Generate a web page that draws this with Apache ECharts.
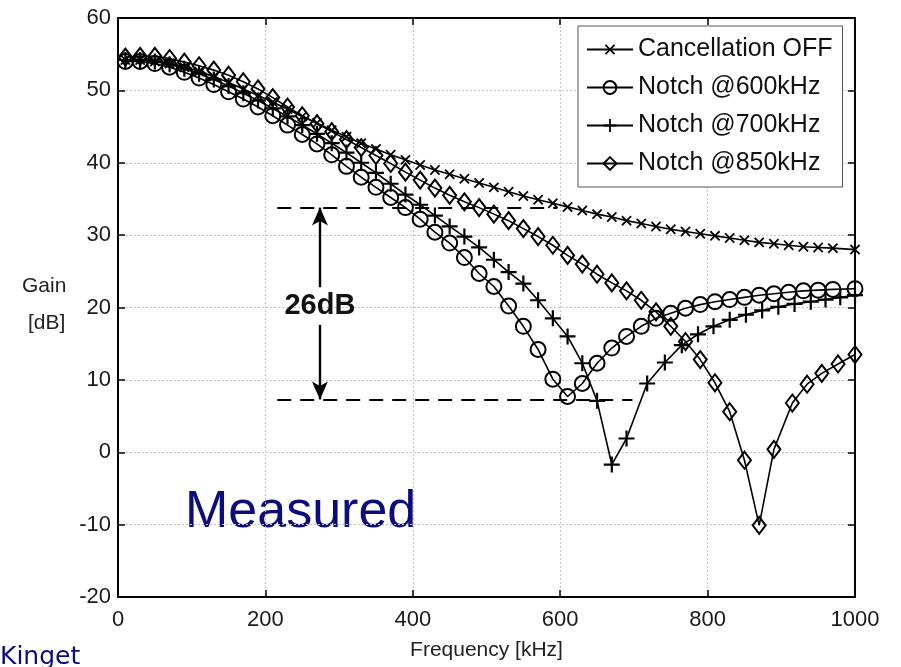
<!DOCTYPE html>
<html>
<head>
<meta charset="utf-8">
<script src="https://cdn.jsdelivr.net/npm/echarts@6/dist/echarts.min.js"></script>
<style>
  html, body { margin: 0; padding: 0; background: #fff; }
  #chart { width: 901px; height: 667px; }
</style>
</head>
<body>
<div id="chart"></div>
<script>
// Measured gain of the receiver with and without the cancellation notch.
const seriesNames = ['Cancellation OFF', 'Notch @600kHz', 'Notch @700kHz', 'Notch @850kHz'];

// Cancellation OFF
const freqOff = [10,30,50,70,90,110,130,150,170,190,210,230,250,270,290,310,330,350,370,390,
                 410,430,450,470,490,510,530,550,570,590,610,630,650,670,690,710,730,750,770,790,
                 810,830,850,870,890,910,930,950,970,1000];
const gainOff = [54.2,54.2,54.0,53.7,53.2,52.6,51.9,51.1,50.2,49.3,48.4,47.4,46.4,45.5,44.5,43.6,42.7,41.9,41.1,40.4,
                 39.7,39.0,38.4,37.8,37.2,36.6,36.0,35.4,34.9,34.4,33.9,33.4,32.9,32.5,32.0,31.6,31.2,30.8,30.5,30.2,
                 29.9,29.6,29.3,29.0,28.8,28.6,28.4,28.3,28.2,28.0];

// Notch at 600 kHz
const freq600 = [10,30,50,70,90,110,130,150,170,190,210,230,250,270,290,310,330,350,370,390,
                 410,430,450,470,490,510,530,550,570,590,610,630,650,670,690,710,730,750,770,790,
                 810,830,850,870,890,910,930,950,970,1000];
const gain600 = [54.0,54.0,53.7,53.2,52.5,51.7,50.8,49.8,48.8,47.7,46.5,45.2,43.9,42.6,41.1,39.5,38.0,36.6,35.2,33.8,
                 32.2,30.4,28.9,26.9,24.7,22.9,20.2,17.4,14.2,10.1,7.7,9.5,12.3,14.4,16.0,17.4,18.5,19.2,19.9,20.4,
                 20.8,21.1,21.4,21.7,21.9,22.1,22.3,22.4,22.5,22.6];

// Notch at 700 kHz
const freq700 = [10,30,50,70,90,110,130,150,170,190,210,230,250,270,290,310,330,350,370,390,
                 410,430,450,470,490,510,530,550,570,590,610,630,650,670,
                 690,718,742,765,787,808,830,852,874,896,918,940,960,980,1000];
const gain700 = [54.2,54.2,54.0,53.6,53.0,52.3,51.5,50.6,49.6,48.6,47.5,46.4,45.2,44.0,42.7,41.4,40.0,38.6,37.1,35.6,
                 34.2,32.7,31.2,29.8,28.3,26.6,24.9,23.3,21.0,18.5,16.0,12.3,7.1,-1.7,
                 1.9,9.5,12.4,14.8,16.3,17.4,18.3,19.0,19.6,20.1,20.5,20.8,21.1,21.4,21.7];

// Notch at 850 kHz
const freq850 = [10,30,50,70,90,110,130,150,170,190,210,230,250,270,290,310,330,350,370,390,
                 410,430,450,470,490,510,530,550,570,590,610,630,650,670,690,710,730,750,770,790,
                 810,830,850,870,890,915,935,955,977,1000];
const gain850 = [54.6,54.7,54.7,54.4,53.9,53.4,52.8,52.1,51.2,50.2,49.0,47.7,46.5,45.4,44.3,43.2,42.1,41.0,39.9,38.7,
                 37.6,36.5,35.5,34.6,33.8,32.9,32.0,30.9,29.8,28.6,27.2,26.0,24.6,23.4,22.3,21.0,19.4,17.4,15.3,12.8,
                 9.6,5.6,-1.1,-10.1,0.4,6.8,9.4,10.9,12.2,13.5];

// Axis ticks
const xTicks = [0, 200, 400, 600, 800, 1000];
const yTicks = [-20, -10, 0, 10, 20, 30, 40, 50, 60];

// Suppression annotation (kHz / dB)
const gapLabel = '26dB';
const gapTop = 33.8;
const gapBottom = 7.3;
const gapFreq = 274;
const gapLineStart = 216;
const gapTopEnd = 596;
const gapBottomEnd = 698;
const gapTextLevel = 20.2;
const gapTextHalf = 2.6;

const pairs = (f, g) => f.map((v, i) => [v, g[i]]);

const plusPath = 'path://M-1.1,-8 L1.1,-8 L1.1,-1.1 L8,-1.1 L8,1.1 L1.1,1.1 L1.1,8 L-1.1,8 L-1.1,1.1 L-8,1.1 L-8,-1.1 L-1.1,-1.1 Z';
const hollow = { color: 'rgba(0,0,0,0)', borderColor: '#000', borderWidth: 2 };
const solid = { color: '#000', borderWidth: 0 };
const lineStyle = { color: '#000', width: 1.6 };
const tickFont = 'Liberation Sans';

function curve(name, data, symbol, size, itemStyle, rotate) {
  return {
    name, type: 'line', data, symbol, symbolSize: size, symbolRotate: rotate || 0,
    itemStyle, lineStyle, color: '#000', clip: false, silent: true,
    emphasis: { disabled: true }
  };
}

function frameAxis(extra) {
  return Object.assign({
    type: 'value',
    axisLine: { onZero: false, lineStyle: { color: '#000', width: 2 } },
    axisTick: { inside: true, length: 7, lineStyle: { color: '#000', width: 1.5 } },
    axisLabel: { show: false },
    splitLine: { show: false }
  }, extra);
}

const grid = { show: true, lineStyle: { color: '#c4c4c4', width: 1, type: [2, 2] } };
const labelStyle = { fontFamily: tickFont, fontSize: 22, color: '#1a1a1a', formatter: v => String(v) };

const chart = echarts.init(document.getElementById('chart'), null, { renderer: 'canvas' });

const dash = { color: '#000', width: 2, type: [14, 9] };
const solidArrow = { color: '#000', width: 2.4, type: 'solid' };

chart.setOption({
  animation: false,
  backgroundColor: '#fff',
  grid: { left: 118, right: 46, top: 18, bottom: 70, containLabel: false, outerBoundsMode: 'none' },
  legend: {
    data: seriesNames,
    orient: 'vertical',
    left: 578, top: 26,
    itemWidth: 46, itemHeight: 16, itemGap: 13,
    padding: [11, 10, 11, 8],
    backgroundColor: '#fff',
    borderColor: '#555', borderWidth: 1, borderRadius: 0,
    selectedMode: false,
    textStyle: { fontFamily: tickFont, fontSize: 25, color: '#111', padding: [0, 0, 0, 0] }
  },
  xAxis: [
    frameAxis({
      min: xTicks[0], max: xTicks[xTicks.length - 1], interval: 200, position: 'bottom',
      name: 'Frequency [kHz]', nameLocation: 'middle', nameGap: 43,
      nameTextStyle: { fontFamily: tickFont, fontSize: 21, color: '#222' },
      axisLabel: Object.assign({ show: true, margin: 12 }, labelStyle),
      splitLine: grid
    }),
    frameAxis({ min: xTicks[0], max: xTicks[xTicks.length - 1], interval: 200, position: 'top' })
  ],
  yAxis: [
    frameAxis({
      min: yTicks[0], max: yTicks[yTicks.length - 1], interval: 10, position: 'left',
      axisLabel: Object.assign({ show: true, margin: 7 }, labelStyle),
      splitLine: grid
    }),
    frameAxis({ min: yTicks[0], max: yTicks[yTicks.length - 1], interval: 10, position: 'right' })
  ],
  series: [
    {
      name: 'annotation', type: 'line', data: [], silent: true,
      markLine: {
        silent: true, animation: false, symbol: ['none', 'none'],
        label: { show: false },
        emphasis: { disabled: true },
        data: [
          [{ coord: [gapLineStart, gapTop], lineStyle: dash }, { coord: [gapTopEnd, gapTop] }],
          [{ coord: [gapLineStart, gapBottom], lineStyle: dash }, { coord: [gapBottomEnd, gapBottom] }],
          [{ coord: [gapFreq, gapTextLevel + gapTextHalf], lineStyle: solidArrow, symbol: 'none' },
           { coord: [gapFreq, gapTop], symbol: 'arrow', symbolSize: [12, 18] }],
          [{ coord: [gapFreq, gapTextLevel - gapTextHalf], lineStyle: solidArrow, symbol: 'none' },
           { coord: [gapFreq, gapBottom], symbol: 'arrow', symbolSize: [12, 18] }]
        ]
      },
      markPoint: {
        silent: true, symbol: 'rect', symbolSize: 0,
        data: [{ coord: [gapFreq, gapTextLevel] }],
        label: {
          show: true, position: 'inside', formatter: gapLabel,
          fontFamily: tickFont, fontWeight: 'bold', fontSize: 29, color: '#111'
        }
      }
    },
    curve(seriesNames[0], pairs(freqOff, gainOff), plusPath, 13, solid, 45),
    curve(seriesNames[1], pairs(freq600, gain600), 'circle', 15, hollow),
    curve(seriesNames[2], pairs(freq700, gain700), plusPath, 16, solid),
    curve(seriesNames[3], pairs(freq850, gain850), 'diamond', [13, 17], hollow)
  ],
  graphic: [
    { type: 'text', left: 22, top: 276, silent: true,
      style: { text: 'Gain', font: '21px "Liberation Sans"', fill: '#222' } },
    { type: 'text', left: 28, top: 313, silent: true,
      style: { text: '[dB]', font: '21px "Liberation Sans"', fill: '#222' } },
    { type: 'text', left: 185, top: 487, silent: true,
      style: { text: 'Measured', font: '52px "Liberation Sans"', fill: '#0c0c7e' } },
    { type: 'text', left: 0, top: 645, silent: true,
      style: { text: 'Kinget', font: '25px "DejaVu Sans"', fill: '#0c0c7e' } }
  ]
});
</script>
</body>
</html>
